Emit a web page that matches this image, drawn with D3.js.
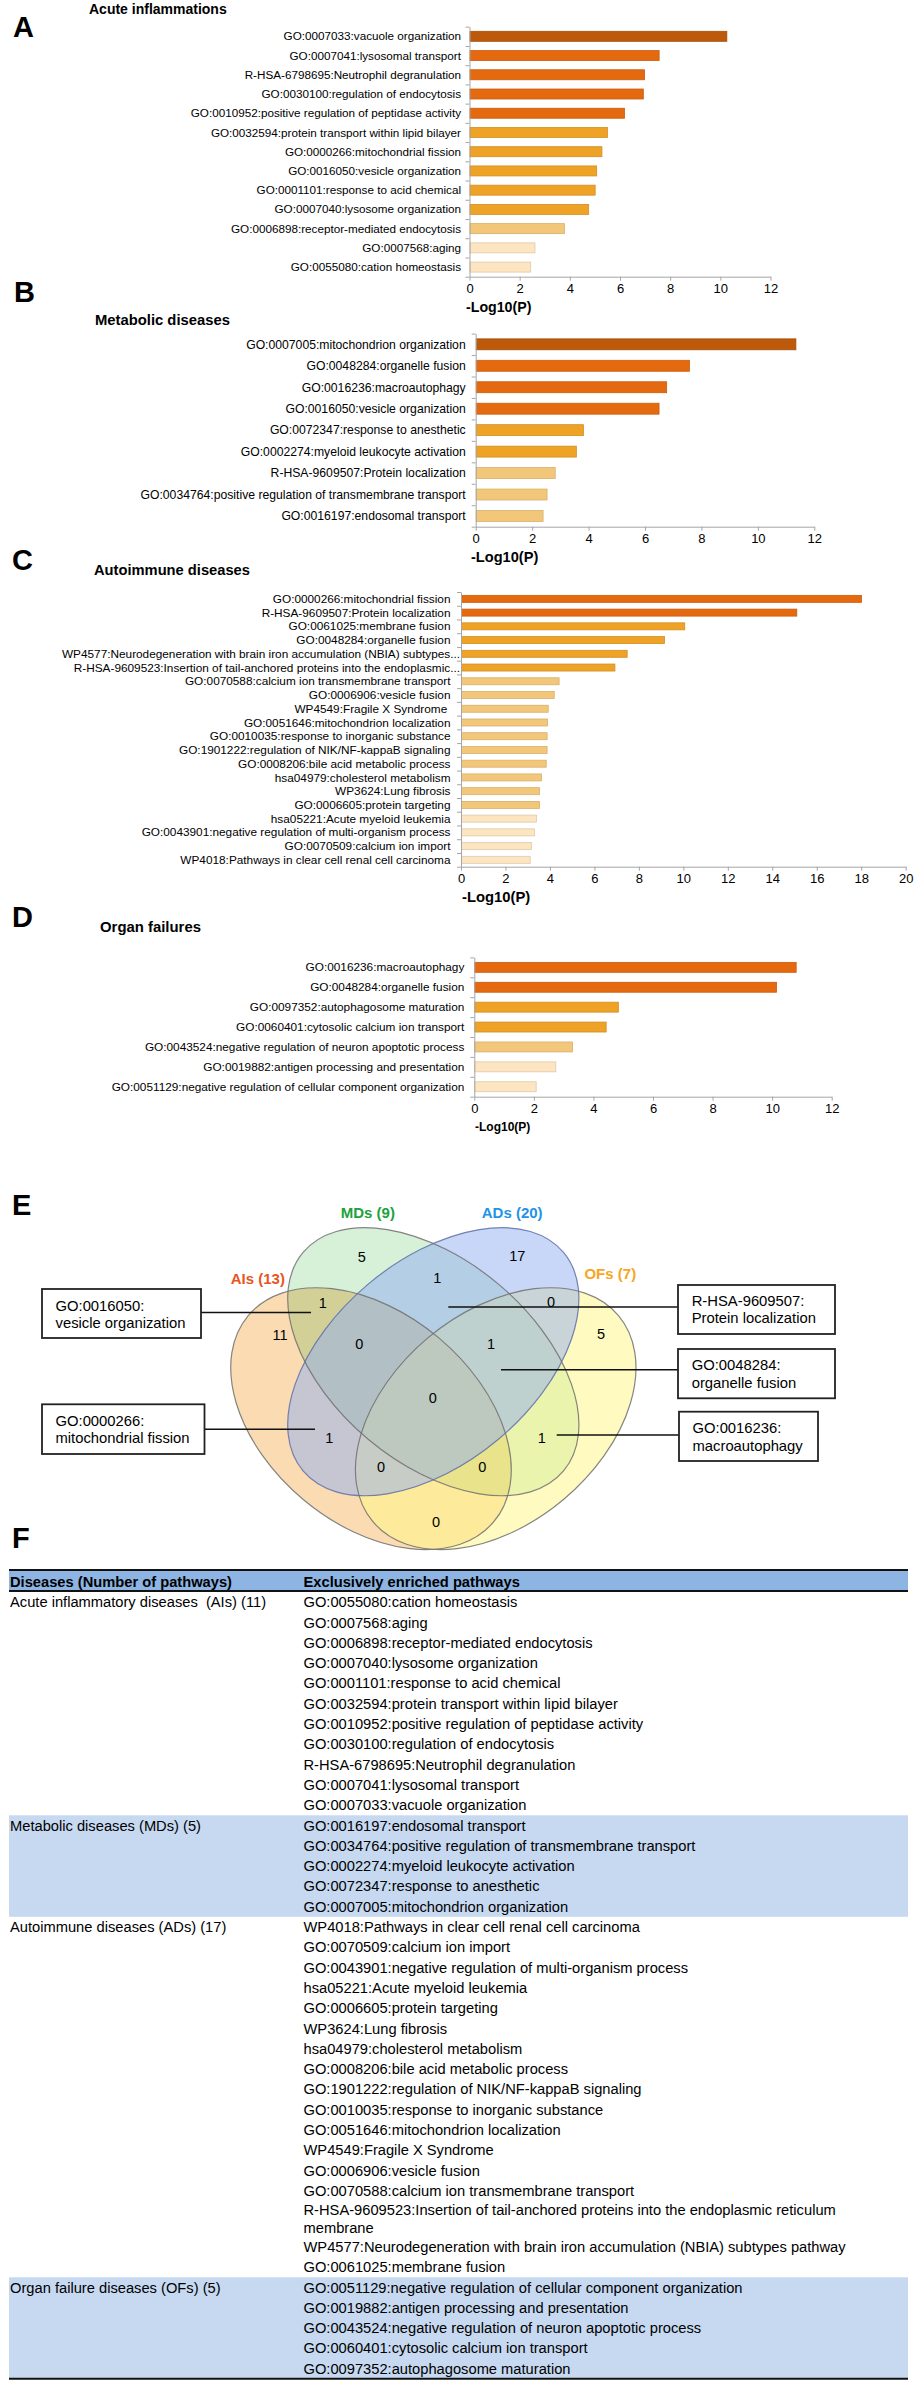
<!DOCTYPE html>
<html><head><meta charset="utf-8">
<script src="https://cdn.jsdelivr.net/npm/d3@7"></script>
<style>
html,body{margin:0;padding:0;background:#fff;}
svg{display:block;font-family:"Liberation Sans",Arial,Helvetica,sans-serif;}
text{white-space:pre;}
</style></head><body>
<svg id="fig" width="914" height="2381"></svg>
<script>
// ---------------- DATA ----------------
const aCategories = ["GO:0007033:vacuole organization","GO:0007041:lysosomal transport","R-HSA-6798695:Neutrophil degranulation","GO:0030100:regulation of endocytosis","GO:0010952:positive regulation of peptidase activity","GO:0032594:protein transport within lipid bilayer","GO:0000266:mitochondrial fission","GO:0016050:vesicle organization","GO:0001101:response to acid chemical","GO:0007040:lysosome organization","GO:0006898:receptor-mediated endocytosis","GO:0007568:aging","GO:0055080:cation homeostasis"];
const aValues = [10.24,7.54,6.96,6.91,6.16,5.48,5.26,5.05,4.99,4.73,3.77,2.59,2.42];
const aShade = [0,1,1,1,1,2,2,2,2,2,3,4,4];

const bCategories = ["GO:0007005:mitochondrion organization","GO:0048284:organelle fusion","GO:0016236:macroautophagy","GO:0016050:vesicle organization","GO:0072347:response to anesthetic","GO:0002274:myeloid leukocyte activation","R-HSA-9609507:Protein localization","GO:0034764:positive regulation of transmembrane transport","GO:0016197:endosomal transport"];
const bValues = [11.33,7.56,6.75,6.48,3.80,3.55,2.80,2.51,2.37];
const bShade = [0,1,1,1,2,2,3,3,3];

const cCategories = ["GO:0000266:mitochondrial fission","R-HSA-9609507:Protein localization","GO:0061025:membrane fusion","GO:0048284:organelle fusion","WP4577:Neurodegeneration with brain iron accumulation (NBIA) subtypes...","R-HSA-9609523:Insertion of tail-anchored proteins into the endoplasmic...","GO:0070588:calcium ion transmembrane transport","GO:0006906:vesicle fusion","WP4549:Fragile X Syndrome ","GO:0051646:mitochondrion localization","GO:0010035:response to inorganic substance","GO:1901222:regulation of NIK/NF-kappaB signaling","GO:0008206:bile acid metabolic process","hsa04979:cholesterol metabolism","WP3624:Lung fibrosis","GO:0006605:protein targeting","hsa05221:Acute myeloid leukemia","GO:0043901:negative regulation of multi-organism process","GO:0070509:calcium ion import","WP4018:Pathways in clear cell renal cell carcinoma"];
const cValues = [17.99,15.08,10.04,9.13,7.45,6.90,4.39,4.17,3.90,3.87,3.85,3.85,3.81,3.60,3.51,3.51,3.37,3.28,3.15,3.09];
const cShade = [1,1,2,2,2,2,3,3,3,3,3,3,3,3,3,3,4,4,4,4];

const dCategories = ["GO:0016236:macroautophagy","GO:0048284:organelle fusion","GO:0097352:autophagosome maturation","GO:0060401:cytosolic calcium ion transport","GO:0043524:negative regulation of neuron apoptotic process","GO:0019882:antigen processing and presentation","GO:0051129:negative regulation of cellular component organization"];
const dValues = [10.79,10.13,4.82,4.41,3.28,2.72,2.06];
const dShade = [1,1,2,2,3,4,4];

const ticks12 = [0,2,4,6,8,10,12];
const ticks20 = [0,2,4,6,8,10,12,14,16,18,20];
const axisTitle = "-Log10(P)";

const panelTitles = ["Acute inflammations","Metabolic diseases","Autoimmune diseases","Organ failures"];
const panelLetters = ["A","B","C","D","E","F"];

const vennSets = ["AIs (13)","MDs (9)","ADs (20)","OFs (7)"];
const vennRegions = ["AIs","MDs","ADs","OFs","AIs∩MDs","MDs∩ADs","ADs∩OFs","AIs∩MDs∩ADs","MDs∩ADs∩OFs","all","AIs∩ADs","MDs∩OFs","AIs∩ADs∩OFs","AIs∩MDs∩OFs","AIs∩OFs"];
const vennCounts = [11,5,17,5,1,1,0,0,1,0,1,1,0,0,0];
const vennCallouts = [["GO:0016050:","vesicle organization"],["GO:0000266:","mitochondrial fission"],["R-HSA-9609507:","Protein localization"],["GO:0048284:","organelle fusion"],["GO:0016236:","macroautophagy"]];

const tableHeader = ["Diseases (Number of pathways)","Exclusively enriched pathways"];
const tableGroups = ["Acute inflammatory diseases  (AIs) (11)","Metabolic diseases (MDs) (5)","Autoimmune diseases (ADs) (17)","Organ failure diseases (OFs) (5)"];
const aisPathways = ["GO:0055080:cation homeostasis","GO:0007568:aging","GO:0006898:receptor-mediated endocytosis","GO:0007040:lysosome organization","GO:0001101:response to acid chemical","GO:0032594:protein transport within lipid bilayer","GO:0010952:positive regulation of peptidase activity","GO:0030100:regulation of endocytosis","R-HSA-6798695:Neutrophil degranulation","GO:0007041:lysosomal transport","GO:0007033:vacuole organization"];
const mdsPathways = ["GO:0016197:endosomal transport","GO:0034764:positive regulation of transmembrane transport","GO:0002274:myeloid leukocyte activation","GO:0072347:response to anesthetic","GO:0007005:mitochondrion organization"];
const adsPathways = ["WP4018:Pathways in clear cell renal cell carcinoma","GO:0070509:calcium ion import","GO:0043901:negative regulation of multi-organism process","hsa05221:Acute myeloid leukemia","GO:0006605:protein targeting","WP3624:Lung fibrosis","hsa04979:cholesterol metabolism","GO:0008206:bile acid metabolic process","GO:1901222:regulation of NIK/NF-kappaB signaling","GO:0010035:response to inorganic substance","GO:0051646:mitochondrion localization","WP4549:Fragile X Syndrome","GO:0006906:vesicle fusion","GO:0070588:calcium ion transmembrane transport","R-HSA-9609523:Insertion of tail-anchored proteins into the endoplasmic reticulum membrane","WP4577:Neurodegeneration with brain iron accumulation (NBIA) subtypes pathway","GO:0061025:membrane fusion"];
const ofsPathways = ["GO:0051129:negative regulation of cellular component organization","GO:0019882:antigen processing and presentation","GO:0043524:negative regulation of neuron apoptotic process","GO:0060401:cytosolic calcium ion transport","GO:0097352:autophagosome maturation"];

// ---------------- STYLE / LAYOUT ----------------
const FONT = '"Liberation Sans", Arial, Helvetica, sans-serif';
const palette = ["#BC590B","#E4690F","#EEA226","#F3C77A","#FCE5C0"];
const axisGray = "#A6A6A6";
const svg = d3.select("#fig");

// panel letters
const letterPos = [[13,37],[14,302],[12,570],[12,927],[12,1215],[12,1548]];
svg.append("g").selectAll("text").data(panelLetters).join("text")
  .attr("x",(d,i)=>letterPos[i][0]).attr("y",(d,i)=>letterPos[i][1])
  .attr("font-size",29).attr("font-weight","bold").attr("font-family",FONT).text(d=>d);

function barPanel(p){
  const g = svg.append("g");
  const n = p.cats.length;
  const x = d3.scaleLinear().domain([0,p.max]).range([p.x0,p.x1]);
  const yb = d3.scaleBand().domain(d3.range(n)).range([p.top,p.bottom]).paddingInner(p.pad).paddingOuter(p.pad/2);
  const yl = d3.scaleLinear().domain([0,n]).range([p.top,p.bottom]);

  g.append("text").attr("x",p.titleX).attr("y",p.titleY).attr("font-size",p.titleSize)
    .attr("font-weight","bold").attr("font-family",FONT).text(p.title);

  g.append("g").selectAll("rect").data(p.vals).join("rect")
    .attr("x",x(0)+0.5).attr("y",(d,i)=>yb(i))
    .attr("width",d=>x(d)-x(0)).attr("height",yb.bandwidth())
    .attr("fill",(d,i)=>palette[p.shade[i]])
    .attr("stroke",(d,i)=>d3.color(palette[p.shade[i]]).darker(0.35))
    .attr("stroke-width",0.8);

  const ya = g.append("g").attr("transform",`translate(${p.x0},0)`)
    .call(d3.axisLeft(yl).tickValues(d3.range(n+1)).tickSize(4).tickSizeOuter(0).tickFormat(""));
  const xa = g.append("g").attr("transform",`translate(0,${p.bottom})`)
    .call(d3.axisBottom(x).tickValues(p.ticks).tickSize(4).tickSizeOuter(0).tickPadding(3.4));
  [ya,xa].forEach(a=>{a.select(".domain").attr("stroke",axisGray);a.selectAll(".tick line").attr("stroke",axisGray);});
  xa.selectAll(".tick text").attr("font-size",13).attr("font-family",FONT).attr("fill","#000");

  g.append("g").selectAll("text").data(p.cats).join("text")
    .attr("x",d=>d.endsWith("...")?p.x0-1:p.x0-p.gap)
    .attr("y",(d,i)=>yb(i)+yb.bandwidth()/2)
    .attr("dy","0.35em").attr("text-anchor","end")
    .attr("font-size",p.labelSize).attr("font-family",FONT).text(d=>d);

  g.append("text").attr("x",p.axTitleX).attr("y",p.bottom+30).attr("dy","0.35em")
    .attr("font-size",p.axTitleSize).attr("font-weight","bold").attr("font-family",FONT).text(axisTitle);
}

barPanel({cats:aCategories,vals:aValues,shade:aShade,max:12,ticks:ticks12,x0:469.5,x1:770.5,top:26.7,bottom:276.7,pad:0.48,gap:8.5,labelSize:11.7,title:panelTitles[0],titleX:89,titleY:14,titleSize:14,axTitleX:466,axTitleSize:14.2});
barPanel({cats:bCategories,vals:bValues,shade:bShade,max:12,ticks:ticks12,x0:475.7,x1:814.3,top:333.6,bottom:526.7,pad:0.49,gap:10,labelSize:12.2,title:panelTitles[1],titleX:95,titleY:325,titleSize:14.8,axTitleX:471,axTitleSize:14.6});
barPanel({cats:cCategories,vals:cValues,shade:cShade,max:20,ticks:ticks20,x0:461,x1:905.7,top:592,bottom:866.7,pad:0.49,gap:10.5,labelSize:11.8,title:panelTitles[2],titleX:94,titleY:575,titleSize:14.7,axTitleX:462,axTitleSize:14.8});
barPanel({cats:dCategories,vals:dValues,shade:dShade,max:12,ticks:ticks12,x0:474.3,x1:831.7,top:957.4,bottom:1096.7,pad:0.5,gap:10,labelSize:11.8,title:panelTitles[3],titleX:100,titleY:932,titleSize:14.9,axTitleX:475,axTitleSize:12});

// ---------------- VENN ----------------
// geometry and paint per set (AIs, MDs, ADs, OFs); "order" = drawing order
const vennGeom = [
  {cx:371,cy:1418.7,rx:160.3,ry:105.5,rot:40,fill:"#FBDCB2",op:1,blend:"normal",order:0},
  {cx:433.3,cy:1361.7,rx:170,ry:101.3,rot:40,fill:"#D6F1D8",op:1,blend:"multiply",order:1},
  {cx:433.3,cy:1361.7,rx:170,ry:101.3,rot:-40,fill:"#91ADF1",op:0.5,blend:"normal",order:3},
  {cx:495.7,cy:1418.7,rx:160.3,ry:105.5,rot:-40,fill:"#FFF781",op:0.5,blend:"normal",order:2}
];
const vg = svg.append("g");
const vennIdx = d3.range(vennSets.length).sort((a,b)=>vennGeom[a].order-vennGeom[b].order);
vg.append("g").style("isolation","isolate").selectAll("ellipse").data(vennIdx).join("ellipse")
  .attr("cx",i=>vennGeom[i].cx).attr("cy",i=>vennGeom[i].cy)
  .attr("rx",i=>vennGeom[i].rx).attr("ry",i=>vennGeom[i].ry)
  .attr("transform",i=>`rotate(${vennGeom[i].rot},${vennGeom[i].cx},${vennGeom[i].cy})`)
  .attr("fill",i=>vennGeom[i].fill).attr("fill-opacity",i=>vennGeom[i].op)
  .style("mix-blend-mode",i=>vennGeom[i].blend);
vg.append("g").selectAll("ellipse").data(vennSets).join("ellipse")
  .attr("cx",(d,i)=>vennGeom[i].cx).attr("cy",(d,i)=>vennGeom[i].cy)
  .attr("rx",(d,i)=>vennGeom[i].rx).attr("ry",(d,i)=>vennGeom[i].ry)
  .attr("transform",(d,i)=>`rotate(${vennGeom[i].rot},${vennGeom[i].cx},${vennGeom[i].cy})`)
  .attr("fill","none").attr("stroke",(d,i)=>i===2?"#5F6FA8":"#707070").attr("stroke-opacity",0.85).attr("stroke-width",1.2);

const vennLabelPos = [[257.8,1278.3,"#E8561E"],[367.8,1212.3,"#1CA23C"],[512.2,1212.3,"#2393E6"],[610.3,1273.3,"#F6A623"]];
vg.append("g").selectAll("text").data(vennSets).join("text")
  .attr("x",(d,i)=>vennLabelPos[i][0]).attr("y",(d,i)=>vennLabelPos[i][1]).attr("dy","0.35em")
  .attr("text-anchor","middle").attr("font-size",15).attr("font-weight","bold").attr("font-family",FONT)
  .attr("fill",(d,i)=>vennLabelPos[i][2]).text(d=>d);

const countPos = [[280,1335],[361.7,1256.7],[517.3,1255.7],[601,1334],[322.7,1302.7],[437.3,1277.7],[551,1301.7],[359.3,1344.3],[491,1343.7],[432.7,1398.3],[329.3,1438.3],[541.7,1438.3],[381,1466.7],[482.3,1466.7],[436,1521.7]];
vg.append("g").selectAll("text").data(vennCounts).join("text")
  .attr("x",(d,i)=>countPos[i][0]).attr("y",(d,i)=>countPos[i][1]).attr("dy","0.35em")
  .attr("text-anchor","middle").attr("font-size",14.5).attr("font-family",FONT).text(d=>d);

// callouts: box [x0,y0,x1,y1], line [xa,xb,y], text x, line centers
const calloutLayout = [
  {box:[42,1289,201,1338],line:[201,311,1312.5],tx:55.5,ty:[1305.7,1323.3]},
  {box:[42,1404.3,204.5,1454],line:[204.5,315,1429.3],tx:55.5,ty:[1420.7,1438.3]},
  {box:[678,1285,835,1334],line:[448.3,678,1307],tx:691.7,ty:[1300.7,1318.3]},
  {box:[678,1349,835,1398.3],line:[501,678,1369.7],tx:691.7,ty:[1365,1382.7]},
  {box:[679,1411.7,818,1461],line:[556.7,679,1435],tx:692.5,ty:[1428.3,1446]}
];
const cg = vg.append("g").selectAll("g").data(vennCallouts).join("g");
cg.append("line").attr("x1",(d,i)=>calloutLayout[i].line[0]).attr("x2",(d,i)=>calloutLayout[i].line[1])
  .attr("y1",(d,i)=>calloutLayout[i].line[2]).attr("y2",(d,i)=>calloutLayout[i].line[2])
  .attr("stroke","#111").attr("stroke-width",1.5);
cg.append("rect").attr("x",(d,i)=>calloutLayout[i].box[0]).attr("y",(d,i)=>calloutLayout[i].box[1])
  .attr("width",(d,i)=>calloutLayout[i].box[2]-calloutLayout[i].box[0])
  .attr("height",(d,i)=>calloutLayout[i].box[3]-calloutLayout[i].box[1])
  .attr("fill","#fff").attr("stroke","#222").attr("stroke-width",1.8);
cg.each(function(d,i){
  d3.select(this).selectAll("text.t").data(d).join("text").attr("class","t")
    .attr("x",calloutLayout[i].tx).attr("y",(t,k)=>calloutLayout[i].ty[k]).attr("dy","0.35em")
    .attr("font-size",14.8).attr("font-family",FONT).text(t=>t);
});

// ---------------- TABLE ----------------
const tg = svg.append("g");
const groupItems = [aisPathways,mdsPathways,adsPathways,ofsPathways];
const tLeft = 9, tRight = 908, colX = [10,303.5];
const topLine = 1570, headBottom = 1591;
const lineStep = 20.3, wrapStep = 17.3, wrapExtra = 15.4, wrapMax = 580, tFont = 14.7;

const meas = tg.append("text").attr("font-size",tFont).attr("font-family",FONT).attr("visibility","hidden");
function wrap(s){
  const words = s.split(" "); const lines = []; let cur = "";
  words.forEach(w=>{
    const t = cur ? cur+" "+w : w;
    meas.text(t);
    if(cur && meas.node().getComputedTextLength()>wrapMax){lines.push(cur);cur=w;} else cur=t;
  });
  lines.push(cur); return lines;
}
const rows = []; const groupSpans = [];
let yCur = headBottom + 1;
groupItems.forEach((items,gi)=>{
  const gStart = yCur;
  items.forEach((s,k)=>{
    const lines = wrap(s);
    const h = lineStep + (lines.length-1)*wrapExtra;
    rows.push({g:gi,first:k===0,lines,top:yCur,h});
    yCur += h;
  });
  groupSpans.push([gStart,yCur]);
});
meas.remove();
const tableBottom = yCur;

tg.append("rect").attr("x",tLeft).attr("y",topLine+1).attr("width",tRight-tLeft).attr("height",headBottom-topLine-1).attr("fill","#8DB4E2");
tg.append("g").selectAll("rect").data(groupSpans.filter((d,i)=>i%2===1)).join("rect")
  .attr("x",tLeft).attr("y",d=>d[0]).attr("width",tRight-tLeft).attr("height",d=>d[1]-d[0]).attr("fill","#C6D9F1");
tg.append("g").selectAll("line").data([topLine,headBottom,tableBottom]).join("line")
  .attr("x1",tLeft).attr("x2",tRight).attr("y1",d=>d).attr("y2",d=>d).attr("stroke","#111").attr("stroke-width",2);
tg.append("g").selectAll("text").data(tableHeader).join("text")
  .attr("x",(d,i)=>colX[i]).attr("y",(topLine+headBottom)/2+1).attr("dy","0.35em")
  .attr("font-size",tFont).attr("font-weight","bold").attr("font-family",FONT).text(d=>d);
tg.append("g").selectAll("text").data(rows.filter(r=>r.first)).join("text")
  .attr("x",colX[0]).attr("y",r=>r.top+lineStep/2).attr("dy","0.35em")
  .attr("font-size",tFont).attr("font-family",FONT).text(r=>tableGroups[r.g]);
const lineData = [];
rows.forEach(r=>r.lines.forEach((l,k)=>lineData.push({t:l,y:r.top+r.h/2-(r.lines.length-1)*wrapStep/2+k*wrapStep})));
tg.append("g").selectAll("text").data(lineData).join("text")
  .attr("x",colX[1]).attr("y",d=>d.y).attr("dy","0.35em")
  .attr("font-size",tFont).attr("font-family",FONT).text(d=>d.t);
</script>
</body></html>
